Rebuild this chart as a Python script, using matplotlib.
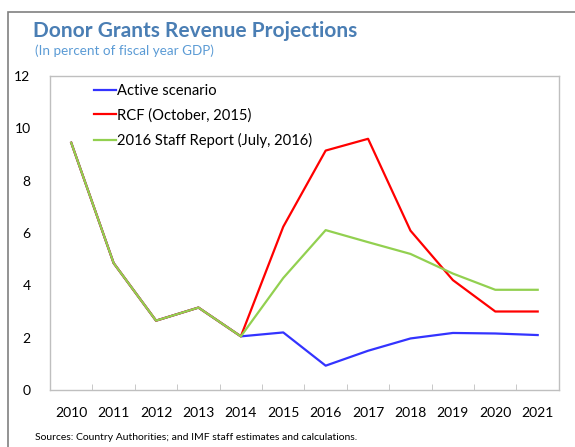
#!/usr/bin/env python3
"""
Donor grants revenue projections chart
"""

import matplotlib
matplotlib.use('Agg')
import matplotlib.pyplot as plt
from matplotlib.patches import Rectangle
import numpy as np

years = ['2010', '2011', '2012', '2013', '2014', '2015',
         '2016', '2017', '2018', '2019', '2020', '2021']
active = [9.45, 4.85, 2.65, 3.15, 2.05, 2.2, 0.93, 1.5, 1.97, 2.18, 2.16, 2.1]
rcf = [9.45, 4.85, 2.65, 3.15, 2.05, 6.24, 9.15, 9.6, 6.09, 4.2, 3.0, 3.0]
staff = [9.45, 4.85, 2.65, 3.15, 2.05, 4.28, 6.11, 5.65, 5.2, 4.45, 3.83, 3.83]

plt.rcParams['font.family'] = ['Lato', 'DejaVu Sans']

fig = plt.figure(figsize=(5.75, 4.47), dpi=100)
ax = fig.add_axes([0.087, 0.1275, 0.885, 0.7025])

x = np.arange(len(years))
ax.plot(x, active, color='#3333ff', lw=1.6, label='Active scenario')
ax.plot(x, rcf, color='#ff0000', lw=1.6, label='RCF (October, 2015)')
ax.plot(x, staff, color='#92d050', lw=1.6, label='2016 Staff Report (July, 2016)')

ax.set_xlim(-0.5, 11.5)
ax.set_ylim(0, 12)
ax.set_yticks(range(0, 13, 2))
ax.set_xticks(x)
ax.set_xticklabels(years)
ax.set_xticks(np.arange(-0.5, 12, 1), minor=True)
ax.tick_params(axis='x', which='major', length=0, pad=12, labelsize=10)
ax.tick_params(axis='x', which='minor', direction='in', length=4, color='#bfbfbf')
ax.tick_params(axis='y', length=0, pad=14, labelsize=10)
for s in ax.spines.values():
    s.set_color('#bfbfbf')
    s.set_linewidth(1.0)

ax.legend(loc='upper left', bbox_to_anchor=(0.06, 1.017), frameon=False,
          fontsize=10.6, handlelength=1.5, handletextpad=0.1, labelspacing=0.7)

# outer frame
fig.patches.append(Rectangle((8 / 575, -0.1), 1.2, 1.1 - 12 / 447,
                             transform=fig.transFigure, fill=False,
                             edgecolor='#808080', lw=1.2))

fig.text(33 / 575, 1 - 31 / 447, 'Donor Grants Revenue Projections',
         fontsize=15, fontweight='bold', color='#4a7eb4', va='center')
fig.text(35 / 575, 1 - 51 / 447, '(In percent of fiscal year GDP)',
         fontsize=9.7, color='#5b9bd5', va='center')
fig.text(35 / 575, 1 - 438 / 447,
         'Sources: Country Authorities; and IMF staff estimates and calculations.',
         fontsize=7.5, color='black', va='center')

plt.savefig('out.png', dpi=100)
